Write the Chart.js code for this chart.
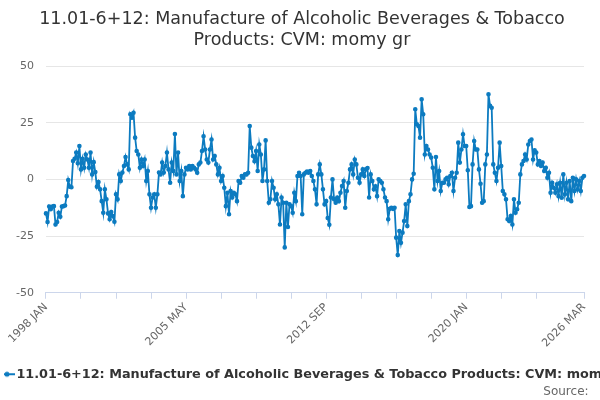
<!DOCTYPE html>
<html>
<head>
<meta charset="utf-8">
<script src="https://cdn.jsdelivr.net/npm/chart.js@4/dist/chart.umd.min.js"></script>
<style>
  html, body { margin: 0; padding: 0; background: #fff; }
  #wrap { width: 600px; height: 400px; }
</style>
</head>
<body>
<div id="wrap"><canvas id="chart"></canvas></div>
<script>
// Series: monthly growth, starting 1998 JAN (one row per year)
const startYear = 1998;
const monthNames = ['JAN', 'FEB', 'MAR', 'APR', 'MAY', 'JUN', 'JUL', 'AUG', 'SEP', 'OCT', 'NOV', 'DEC'];
const seriesName = '11.01-6+12: Manufacture of Alcoholic Beverages & Tobacco Products: CVM: momy gr';
const titleLines = ['11.01-6+12: Manufacture of Alcoholic Beverages & Tobacco', 'Products: CVM: momy gr'];
const yTicks = [-50, -25, 0, 25, 50];

const growth = [
    -15, -18.8, -12, -13.2, -12, -11.8, -19.9, -18.8, -14.7, -16.5, -12, -11.8,
    -11.5, -7.4, -0.3, -3.2, -3.5, 8.1, 9.1, 11.8, 7.1, 14.7, 4.4, 9.1,
    5.1, 11, 8.8, 5.1, 11.8, 2.2, 7.6, 3.2, -3.2, -1.2, -4.4, -9.6,
    -14.7, -4.4, -8.8, -15, -17.6, -14.4, -16.2, -18.7, -6.6, -8.8, 2.2, -0.7,
    3, 5.9, 9.9, 6.6, 4.4, 28.7, 27.2, 29.4, 18.4, 12.5, 11, 5.1,
    8.8, 5.9, 8.8, -0.7, 3.7, -6.6, -12.5, -8, -6.6, -12.5, -6.6, 3,
    2.2, 7.4, 3, 5.9, 11.8, 4.4, -1.5, 7.4, 3.7, 20, 2.2, 11.8,
    -0.7, 3.7, -7.4, 2.2, 5.1, 4.4, 5.9, 4.4, 5.9, 5.1, 4.4, 2.9,
    6.6, 7.4, 12.5, 19, 13.2, 8.8, 7.4, 13.2, 17.6, 8.8, 10.3, 6.6,
    2.2, 5.1, -0.7, 1.5, -3.7, -11.8, -5.9, -15.4, -5.1, -8, -5.9, -6.6,
    -9.6, -0.7, -1.5, 1.5, 0.7, 2.2, 2.2, 2.9, 23.5, 14, 10.3, 8,
    12.5, 3.7, 15.4, 11, -0.7, 4.4, 17.2, -0.7, -10.3, -8.8, -0.7, -3.7,
    -8.8, -6.6, -11, -19.9, -8, -10.3, -30, -10.3, -21, -11, -11.8, -14.7,
    -5.9, -9.6, 1.5, 2.9, 1.5, -15.4, 2.2, 2.9, 3.4, 2.9, 3.7, 1.5,
    -0.7, -4.4, -11, 2.2, 6.6, 2.2, -4.4, -11, -9.6, -17, -20, -8,
    0, -8.8, -10.3, -8, -9.6, -5.9, -2.9, -0.7, -12.5, -5.1, -1.5, 4.4,
    6.6, 2.2, 8.8, 6.6, 0.7, -1.5, 2.2, 4.4, 1.5, 4.4, 5, -8,
    2.2, -0.7, -4.4, -3, -7.4, 0, -0.7, -1.5, -4.4, -8, -9.6, -17.6,
    -13, -12.5, -13, -12.5, -25.7, -33.4, -22.8, -28, -23.5, -18.4, -11, -20.6,
    -9.6, -6.6, 0, 2.5, 30.9, 24.3, 23.5, 18.4, 35.3, 28.7, 11, 14.7,
    13.2, 11, 9.6, 5.1, -4.4, 9.9, -0.7, 3.7, -5.1, -1.5, -1.5, 0,
    0.7, -2.2, 1.5, 2.9, -5.1, 0.7, 2.9, 16.2, 7.4, 13.2, 19.9, 14.7,
    14.7, 4, -12.2, -11.8, 6.6, 16.9, 13.2, 13.2, 4.4, -1.9, -10.3, -9.6,
    6.6, 11, 37.5, 32.4, 31.6, 6.6, 2.9, -0.7, 5.1, 16.2, 5.9, -5.1,
    -6.6, -8.8, -17.6, -18.4, -16.2, -19.9, -8.8, -14.7, -13.2, -10.3, 2.2, 6.6,
    8.1, 11, 8.8, 15.4, 16.9, 17.6, 8.8, 12.8, 11.8, 6.6, 8.1, 5.9,
    7.4, 3.7, 5.1, 0.7, 2.9, -5.9, -1.5, -3.7, -5.9, -2.2, -7.4, -1.5,
    -8.1, 2.2, -6.6, -1.5, -8.8, -0.7, -9.6, 0.7, -5.1, 0, -4.4, -0.7,
    -5.1, 0.7, 1.5
];

// month labels for each point
const labels = growth.map(function (v, i) {
    return (startYear + Math.floor(i / 12)) + ' ' + monthNames[i % 12];
});

const lineColor = '#0c7bc0';
const last = labels.length - 1;

// small line-and-dot symbol for the legend
function legendSymbol() {
    let c = document.createElement('canvas');
    c.width = 16;
    c.height = 10;
    let ctx = c.getContext('2d');
    ctx.strokeStyle = lineColor;
    ctx.lineWidth = 2;
    ctx.beginPath();
    ctx.moveTo(0, 5);
    ctx.lineTo(16, 5);
    ctx.stroke();
    ctx.fillStyle = lineColor;
    ctx.beginPath();
    ctx.arc(8, 5, 2.5, 0, Math.PI * 2);
    ctx.fill();
    return c;
}

Chart.defaults.font.family = '"DejaVu Sans", sans-serif';
Chart.defaults.animation = false;

new Chart(document.getElementById('chart').getContext('2d'), {
    type: 'line',
    data: {
        labels: labels,
        datasets: [{
            label: seriesName,
            data: growth,
            borderColor: lineColor,
            backgroundColor: lineColor,
            borderWidth: 1.8,
            pointRadius: 1.4,
            pointHoverRadius: 3,
            tension: 0,
            fill: false
        }]
    },
    options: {
        responsive: true,
        maintainAspectRatio: false,
        layout: { padding: { left: 4, right: 0, top: 4, bottom: 0 } },
        plugins: {
            title: {
                display: true,
                text: titleLines,
                color: '#333333',
                font: { size: 17.5, weight: 'normal' },
                padding: { top: 5, bottom: 15 },
                lineHeight: 1.55
            },
            subtitle: {
                display: true,
                text: 'Source:\u00a0\u00a0\u00a0',
                position: 'bottom',
                align: 'end',
                color: '#666666',
                font: { size: 12, weight: 'normal' },
                padding: { top: -6, bottom: 1 }
            },
            legend: {
                position: 'bottom',
                align: 'start',
                labels: {
                    color: '#333333',
                    font: { size: 12.8, weight: 'bold' },
                    usePointStyle: true,
                    pointStyle: legendSymbol(),
                    pointStyleWidth: 6,
                    padding: 0
                }
            },
            tooltip: { enabled: false }
        },
        scales: {
            x: {
                type: 'category',
                offset: false,
                grid: {
                    drawOnChartArea: false,
                    drawTicks: true,
                    tickLength: 6,
                    color: '#ccd6eb'
                },
                border: { display: true, color: '#ccd6eb' },
                ticks: {
                    autoSkip: false,
                    minRotation: 45,
                    maxRotation: 45,
                    color: '#666666',
                    font: { size: 11 },
                    padding: 2,
                    callback: function (value, i) {
                        if (i % 88 === 0 || i === last) return labels[i];
                        if (i % 22 === 0 && last - i >= 22) return '';
                        return null;
                    }
                },
                afterFit: function (axis) {
                    axis.height += 16;
                }
            },
            y: {
                min: -50,
                max: 50,
                afterBuildTicks: function (axis) {
                    axis.ticks = yTicks.map(function (v) { return { value: v }; });
                },
                grid: {
                    color: function (ctx) {
                        return ctx.tick && ctx.tick.value === -50 ? 'rgba(0,0,0,0)' : '#e6e6e6';
                    },
                    drawTicks: false
                },
                border: { display: false },
                ticks: {
                    color: '#666666',
                    font: { size: 11 },
                    padding: 12
                }
            },
            // empty right-hand axis: keeps the plot edge off the border
            yRight: {
                position: 'right',
                display: true,
                min: -50,
                max: 50,
                grid: { display: false },
                border: { display: false },
                ticks: { display: false },
                afterFit: function (axis) {
                    axis.width = 16;
                }
            }
        }
    }
});
</script>
</body>
</html>
